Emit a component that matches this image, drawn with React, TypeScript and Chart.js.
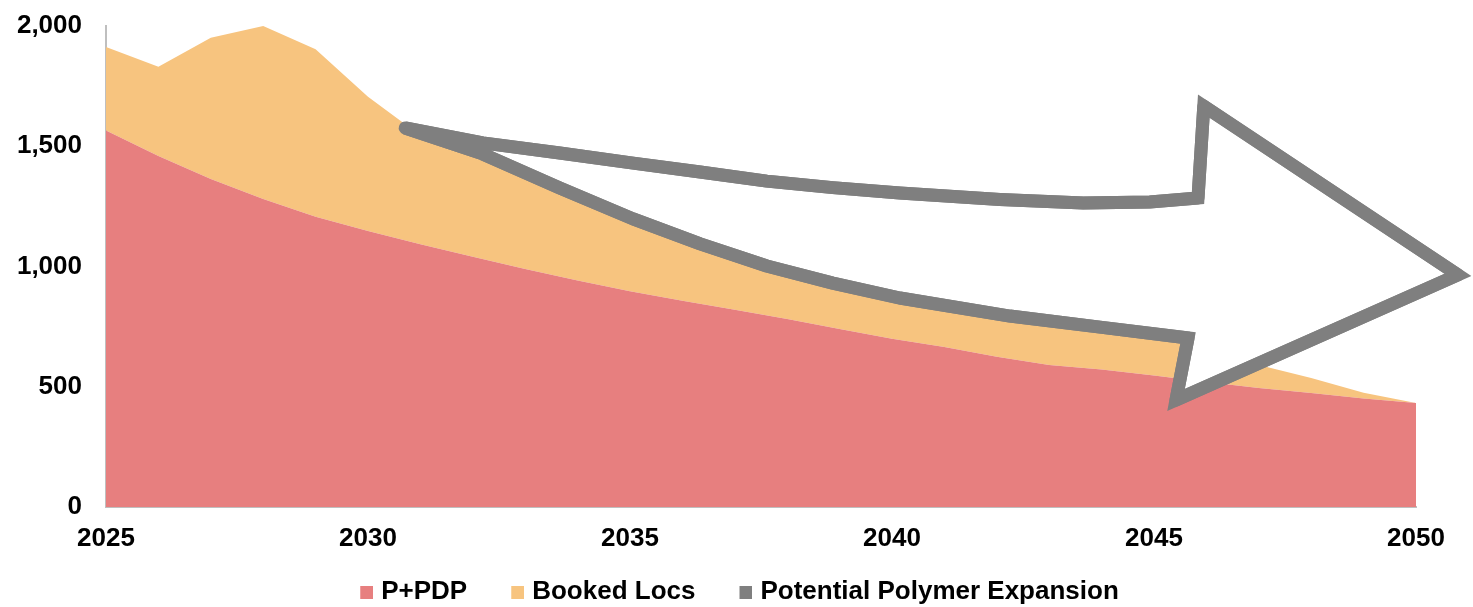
import React, { useEffect, useRef } from 'react';
import { Chart, registerables } from 'chart.js';

Chart.register(...registerables);

// ---- Data ----
const years = [
  2025, 2026, 2027, 2028, 2029, 2030, 2031, 2032, 2033, 2034, 2035, 2036, 2037,
  2038, 2039, 2040, 2041, 2042, 2043, 2044, 2045, 2046, 2047, 2048, 2049, 2050,
];
const pPdp = [
  1565, 1459, 1364, 1281, 1207, 1148, 1092, 1041, 990, 942, 897, 858, 820,
  782, 740, 700, 665, 625, 590, 572, 547, 520, 495, 474, 451, 432,
];
const bookedLocs = [
  348, 372, 587, 719, 696, 558, 453, 419, 385, 348, 308, 257, 225,
  196, 180, 162, 150, 155, 160, 150, 150, 152, 95, 62, 24, 0,
];
// Outline of the "Potential Polymer Expansion" arrow, in (year, value) units
const arrowYears = [
  2030.71, 2032.19, 2033.66, 2035.06, 2036.34, 2037.61, 2038.87, 2040.15, 2042.06,
  2043.65, 2044.92, 2045.84, 2045.95, 2050.8, 2045.42, 2045.65, 2043.97, 2042.25,
  2040.15, 2038.87, 2037.61, 2036.34, 2035.06, 2033.66, 2032.19,
];
const arrowValues = [
  1576, 1514, 1472, 1430, 1393, 1355, 1328, 1306, 1279,
  1264, 1268, 1285, 1667, 965, 445, 703, 748, 794,
  869, 931, 1002, 1094, 1198, 1326, 1468,
];
const seriesLabels = ['P+PDP', 'Booked Locs', 'Potential Polymer Expansion'];
const yTickValues = [0, 500, 1000, 1500, 2000];
const xTickValues = [2025, 2030, 2035, 2040, 2045, 2050];

const RED = '#E77F7F';
const ORANGE = '#F7C47F';
const GRAY = '#7F7F7F';
const AXIS = '#BFBFBF';
const FONT = "'Liberation Sans', Arial, Helvetica, sans-serif";

// legend marker: a 13px square placed at the right end of a transparent strip
function makeMarker(color: string) {
  const c = document.createElement('canvas');
  c.width = 38;
  c.height = 13;
  const g = c.getContext('2d')!;
  g.fillStyle = color;
  g.fillRect(25, 0, 13, 13);
  return c;
}

const arrowPlugin = {
  id: 'polymerArrow',
  afterDatasetsDraw(chart: any) {
    const { ctx, scales } = chart;
    const xs = scales.x;
    const ys = scales.y;
    ctx.save();
    ctx.beginPath();
    arrowYears.forEach((yr, i) => {
      const px = xs.getPixelForValue(yr);
      const py = ys.getPixelForValue(arrowValues[i]);
      if (i === 0) ctx.moveTo(px, py);
      else ctx.lineTo(px, py);
    });
    ctx.closePath();
    ctx.fillStyle = '#FFFFFF';
    ctx.fill();
    ctx.strokeStyle = GRAY;
    ctx.lineWidth = 13;
    ctx.lineJoin = 'round';
    ctx.stroke();
    ctx.lineJoin = 'miter';
    ctx.miterLimit = 10;
    ctx.stroke();
    ctx.restore();
  },
};

export default function App() {
  const ref = useRef<HTMLCanvasElement>(null);

  useEffect(() => {
    if (!ref.current) return;
    const chart = new Chart(ref.current, {
      type: 'line',
      data: {
        datasets: [
          {
            label: seriesLabels[0],
            data: years.map((yr, i) => ({ x: yr, y: pPdp[i] })),
            backgroundColor: RED,
            borderColor: RED,
            borderWidth: 0,
            pointRadius: 0,
            pointStyle: makeMarker(RED),
            tension: 0,
            fill: 'origin',
          },
          {
            label: seriesLabels[1],
            data: years.map((yr, i) => ({ x: yr, y: bookedLocs[i] })),
            backgroundColor: ORANGE,
            borderColor: ORANGE,
            borderWidth: 0,
            pointRadius: 0,
            pointStyle: makeMarker(ORANGE),
            tension: 0,
            fill: '-1',
          },
          {
            label: seriesLabels[2],
            data: [],
            backgroundColor: GRAY,
            borderColor: GRAY,
            borderWidth: 0,
            pointRadius: 0,
            pointStyle: makeMarker(GRAY),
            fill: false,
          },
        ],
      },
      options: {
        animation: false,
        responsive: true,
        maintainAspectRatio: false,
        events: [],
        layout: { padding: { top: 26, bottom: -8, left: 0, right: 14 } },
        scales: {
          x: {
            type: 'linear',
            min: 2025,
            max: 2050,
            afterBuildTicks: (s: any) => {
              s.ticks = xTickValues.map((v) => ({ value: v }));
            },
            afterFit: (s: any) => {
              s.height = 48;
            },
            ticks: {
              callback: (v: any) => String(v),
              font: { family: FONT, size: 26, weight: 'bold' },
              color: '#000000',
              padding: 0,
              maxRotation: 0,
              autoSkip: false,
            },
            grid: { display: false, drawTicks: true, tickLength: 16 },
            border: { display: true, color: AXIS, width: 2 },
          },
          y: {
            type: 'linear',
            stacked: true,
            min: 0,
            max: 2000,
            afterBuildTicks: (s: any) => {
              s.ticks = yTickValues.map((v) => ({ value: v }));
            },
            afterFit: (s: any) => {
              s.width = 106;
            },
            ticks: {
              callback: (v: any) => Number(v).toLocaleString('en-US'),
              font: { family: FONT, size: 26, weight: 'bold' },
              color: '#000000',
              padding: 0,
            },
            grid: { display: false, drawTicks: true, tickLength: 24 },
            border: { display: true, color: AXIS, width: 2 },
          },
          yRight: {
            type: 'linear',
            position: 'right',
            display: true,
            ticks: { display: false },
            grid: { display: false, drawTicks: false },
            border: { display: false },
            afterFit: (s: any) => {
              s.width = 43;
            },
          },
        },
        plugins: {
          legend: {
            display: true,
            position: 'bottom',
            labels: {
              font: { family: FONT, size: 26, weight: 'bold' },
              color: '#000000',
              usePointStyle: true,
              pointStyleWidth: 28,
              boxHeight: 13,
              padding: 24,
            },
          },
          tooltip: { enabled: false },
        },
      },
      plugins: [arrowPlugin],
    } as any);
    return () => chart.destroy();
  }, []);

  return (
    <div style={{ position: 'absolute', left: 0, top: 0, width: 1473, height: 607 }}>
      <canvas ref={ref} />
    </div>
  );
}
